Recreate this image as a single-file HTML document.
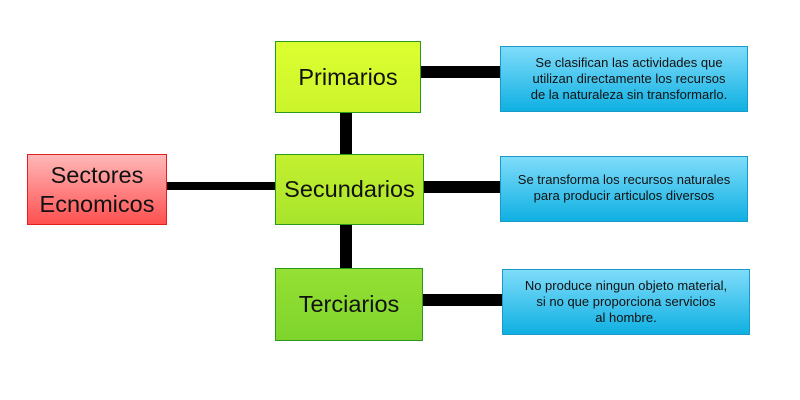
<!DOCTYPE html>
<html><head><style>
body{margin:0;width:800px;height:400px;background:#fff;position:relative;overflow:hidden;font-family:"Liberation Sans",sans-serif}
div{position:absolute;box-sizing:border-box}
.l{background:#000}
.b{display:flex;align-items:center;justify-content:center;text-align:center;color:#111}
.g{border:1px solid #2a9a1a;font-size:23.5px}
.c{border:1px solid #1a9ac8;background:linear-gradient(#7fdcfa,#0fb0e2);font-size:13px;line-height:16px}
</style></head><body>
<div class="l" style="left:166px;top:182px;width:110px;height:8px"></div>
<div class="l" style="left:340px;top:112px;width:12px;height:44px"></div>
<div class="l" style="left:340px;top:223px;width:12px;height:46px"></div>
<div class="l" style="left:420px;top:66px;width:81px;height:12px"></div>
<div class="l" style="left:423px;top:181px;width:78px;height:12px"></div>
<div class="l" style="left:421px;top:294px;width:82px;height:12px"></div>
<div class="b" style="left:27px;top:154px;width:140px;height:71px;border:1px solid #e02020;background:linear-gradient(#ffb8b8,#ff5050);font-size:23.5px;line-height:29px">Sectores<br>Ecnomicos</div>
<div class="b g" style="left:275px;top:41px;width:146px;height:72px;background:linear-gradient(#dcff30,#ccf42c)">Primarios</div>
<div class="b g" style="left:275px;top:154px;width:149px;height:71px;background:linear-gradient(#c4f030,#a8e42c)">Secundarios</div>
<div class="b g" style="left:275px;top:268px;width:148px;height:73px;background:linear-gradient(#96e034,#7ed42c)">Terciarios</div>
<div class="b c" style="left:500px;top:46px;width:248px;height:66px;padding-left:10px">Se clasifican las actividades que<br>utilizan directamente los recursos<br>de la naturaleza sin transformarlo.</div>
<div class="b c" style="left:500px;top:156px;width:248px;height:66px;align-items:flex-start;padding-top:15px">Se transforma los recursos naturales<br>para producir articulos diversos</div>
<div class="b c" style="left:502px;top:269px;width:248px;height:66px">No produce ningun objeto material,<br>si no que proporciona servicios<br>al hombre.</div>
</body></html>
